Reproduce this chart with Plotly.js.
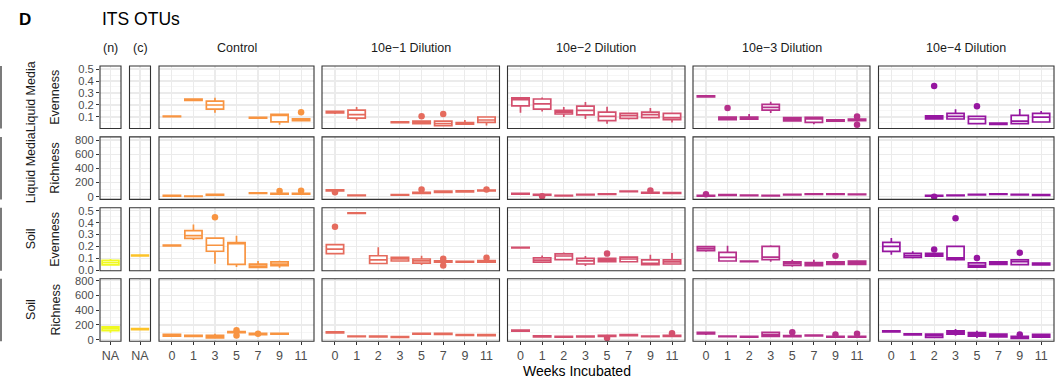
<!DOCTYPE html>
<html>
<head>
<meta charset="utf-8">
<script src="https://cdn.plot.ly/plotly-3.0.1.min.js"></script>
<style>html,body{margin:0;padding:0;background:#fff;}#chart{width:1057px;height:380px;}</style>
</head>
<body>
<div id="chart"></div>
<script>
// ---------- categories & labels ----------
const facetLabels = ['(n)', '(c)', 'Control', '10e\u22121 Dilution', '10e\u22122 Dilution', '10e\u22123 Dilution', '10e\u22124 Dilution'];
const facetColors = ['#f0f921', '#fdc328', '#f89441', '#e56b5d', '#d4506e', '#b5308b', '#9616a0'];
const weeksNC = ['NA'];
const weeksControl = ['0', '1', '3', '5', '7', '9', '11'];
const weeksDilution = ['0', '1', '2', '3', '5', '7', '9', '11'];
const rowMedium = ['Liquid Media', 'Liquid Media', 'Soil', 'Soil'];
const rowMetric = ['Evenness', 'Richness', 'Evenness', 'Richness'];

// ---------- box statistics: [week, lower whisker, q1, median, q3, upper whisker] ----------
// Liquid Media - Evenness
const lmEven_control = [['0',.100,.102,.105,.107,.109],['1',.232,.238,.243,.250,.256],['3',.135,.165,.200,.232,.260],['7',.088,.090,.093,.096,.098],['9',.035,.060,.115,.122,.125],['11',.065,.070,.078,.085,.090]];
const lmEven_control_out = [['11',.140]];
const lmEven_d1 = [['0',.125,.133,.140,.147,.155],['1',.070,.090,.120,.157,.183],['3',.051,.053,.056,.059,.061],['5',.042,.045,.055,.065,.068],['7',.022,.027,.045,.066,.070],['9',.038,.040,.047,.053,.075],['11',.028,.055,.075,.100,.105]];
const lmEven_d1_out = [['5',.106],['7',.125]];
const lmEven_d2 = [['0',.136,.192,.245,.260,.262],['1',.145,.165,.210,.250,.262],['2',.100,.125,.140,.155,.183],['3',.083,.118,.155,.190,.225],['5',.044,.070,.105,.140,.186],['7',.080,.088,.112,.130,.135],['9',.090,.095,.120,.140,.175],['11',.053,.078,.095,.130,.135]];
const lmEven_d2_out = [];
const lmEven_d3 = [['0',.265,.268,.272,.276,.279],['1',.075,.078,.090,.100,.103],['2',.080,.082,.090,.100,.125],['3',.133,.158,.180,.205,.228],['5',.065,.068,.080,.095,.098],['7',.040,.055,.083,.097,.100],['9',.062,.065,.072,.077,.080],['11',.060,.070,.078,.083,.090]];
const lmEven_d3_out = [['1',.175],['11',.105],['11',.035]];
const lmEven_d4 = [['2',.078,.085,.098,.110,.115],['3',.080,.083,.105,.130,.165],['5',.044,.045,.083,.105,.108],['7',.036,.038,.043,.048,.050],['9',.040,.045,.065,.113,.167],['11',.055,.058,.098,.130,.150]];
const lmEven_d4_out = [['2',.358],['5',.190]];

// Liquid Media - Richness
const lmRich_control = [['0',5,8,12,18,20],['1',1,3,6,9,11],['3',18,22,27,32,35],['7',45,48,52,56,59],['9',32,36,42,48,52],['11',30,35,40,46,50]];
const lmRich_control_out = [['9',80],['11',85]];
const lmRich_d1 = [['0',78,82,90,98,100],['1',12,14,18,22,24],['3',20,22,26,30,32],['5',45,48,55,62,65],['7',55,62,70,78,85],['9',65,68,76,84,88],['11',78,82,88,94,96]];
const lmRich_d1_out = [['0',62],['5',100],['11',100]];
const lmRich_d2 = [['0',33,36,42,48,50],['1',18,22,28,32,34],['2',8,10,14,18,20],['3',22,24,28,32,34],['5',31,34,38,42,44],['7',66,70,75,80,83],['9',47,50,56,62,65],['11',43,46,52,58,60]];
const lmRich_d2_out = [['1',5],['9',88]];
const lmRich_d3 = [['0',5,8,14,18,20],['1',18,20,24,28,30],['2',14,16,20,24,26],['3',8,10,14,18,20],['5',22,24,28,32,34],['7',32,34,38,42,44],['9',32,34,38,42,44],['11',27,29,33,37,39]];
const lmRich_d3_out = [['0',35]];
const lmRich_d4 = [['2',6,8,14,18,20],['3',14,16,20,24,26],['5',22,24,28,32,34],['7',32,34,38,42,44],['9',22,24,28,32,34],['11',18,20,24,28,30]];
const lmRich_d4_out = [['2',0]];

// Soil - Evenness
const soilEven_n = [['NA',.040,.045,.065,.083,.095]];
const soilEven_c = [['NA',.118,.120,.123,.127,.129]];
const soilEven_control = [['0',.203,.205,.208,.211,.213],['1',.255,.267,.290,.333,.385],['3',.055,.160,.210,.270,.275],['5',.028,.050,.225,.232,.290],['7',.020,.025,.035,.052,.078],['9',.022,.040,.052,.070,.080]];
const soilEven_control_out = [['3',.445]];
const soilEven_d1 = [['0',.135,.140,.177,.215,.220],['1',.475,.477,.479,.482,.484],['2',.050,.057,.088,.122,.193],['3',.075,.078,.095,.108,.115],['5',.045,.060,.080,.095,.122],['7',.062,.068,.075,.080,.085],['9',.065,.068,.072,.076,.078],['11',.062,.068,.075,.082,.086]];
const soilEven_d1_out = [['0',.365],['7',.097],['7',.040],['11',.105]];
const soilEven_d2 = [['0',.186,.188,.190,.193,.195],['1',.062,.068,.085,.105,.125],['2',.085,.090,.120,.138,.150],['3',.037,.053,.080,.100,.120],['5',.068,.072,.085,.100,.105],['7',.065,.072,.095,.110,.115],['9',.045,.048,.058,.088,.130],['11',.048,.053,.070,.088,.145]];
const soilEven_d2_out = [['5',.140]];
const soilEven_d3 = [['0',.155,.165,.182,.198,.205],['1',.075,.078,.108,.150,.205],['2',.070,.072,.075,.078,.080],['3',.072,.090,.110,.200,.210],['5',.030,.042,.058,.072,.088],['7',.038,.040,.052,.065,.088],['9',.048,.050,.060,.072,.075],['11',.045,.050,.065,.078,.080]];
const soilEven_d3_out = [['9',.123]];
const soilEven_d4 = [['0',.130,.158,.200,.235,.270],['1',.100,.108,.125,.143,.160],['2',.115,.118,.130,.142,.145],['3',.080,.090,.105,.200,.205],['5',.025,.027,.042,.062,.070],['7',.048,.050,.060,.070,.072],['9',.046,.048,.072,.088,.090],['11',.043,.045,.052,.060,.062]];
const soilEven_d4_out = [['2',.174],['3',.437],['5',.103],['9',.148]];

// Soil - Richness
const soilRich_n = [['NA',95,122,150,175,180]];
const soilRich_c = [['NA',135,138,145,150,153]];
const soilRich_control = [['0',48,50,62,72,75],['1',42,45,52,60,62],['3',15,25,42,60,80],['5',90,95,102,110,115],['7',65,70,78,88,92],['9',72,75,80,88,90]];
const soilRich_control_out = [['5',128],['5',58],['7',80]];
const soilRich_d1 = [['0',88,92,100,108,112],['1',36,40,45,50,53],['2',34,38,45,50,53],['3',26,30,36,42,45],['5',70,74,80,86,90],['7',68,72,80,88,92],['9',55,58,63,70,73],['11',52,56,62,70,73]];
const soilRich_d1_out = [];
const soilRich_d2 = [['0',110,115,122,130,134],['1',35,38,45,52,55],['2',32,35,40,46,49],['3',35,38,44,50,53],['5',42,45,52,60,63],['7',53,56,62,68,71],['9',37,40,45,50,53],['11',42,45,52,60,63]];
const soilRich_d2_out = [['5',25],['11',88]];
const soilRich_d3 = [['0',65,80,90,100,105],['1',37,40,45,50,53],['2',33,36,40,46,49],['3',40,45,70,100,105],['5',39,42,48,55,58],['7',49,52,58,64,67],['9',31,34,40,46,49],['11',31,34,40,46,49]];
const soilRich_d3_out = [['5',100],['9',72],['11',80]];
const soilRich_d4 = [['0',100,105,112,120,125],['1',62,65,72,80,83],['2',25,30,55,75,78],['3',55,75,100,120,145],['5',25,48,72,95,120],['7',35,38,58,76,79],['9',15,18,28,45,48],['11',32,35,55,72,75]];
const soilRich_d4_out = [['9',70]];

// ---------- layout geometry ----------
const W = 1057, H = 380;
const FONT = 'Liberation Sans, Arial, sans-serif';
const colPx = [[100,121],[129.5,150.5],[159,314],[322,499.5],[507.5,685],[693,870],[878.5,1054]];
const rowPx = [[66,128.5],[136.9,199.4],[207.8,270.8],[278.7,341.2]];
const colCats = [weeksNC, weeksNC, weeksControl, weeksDilution, weeksDilution, weeksDilution, weeksDilution];

// panel -> [row, col, boxes, outliers]
const panels = [
  [0,2,lmEven_control,lmEven_control_out],[0,3,lmEven_d1,lmEven_d1_out],[0,4,lmEven_d2,lmEven_d2_out],[0,5,lmEven_d3,lmEven_d3_out],[0,6,lmEven_d4,lmEven_d4_out],
  [1,2,lmRich_control,lmRich_control_out],[1,3,lmRich_d1,lmRich_d1_out],[1,4,lmRich_d2,lmRich_d2_out],[1,5,lmRich_d3,lmRich_d3_out],[1,6,lmRich_d4,lmRich_d4_out],
  [2,0,soilEven_n,[]],[2,1,soilEven_c,[]],[2,2,soilEven_control,soilEven_control_out],[2,3,soilEven_d1,soilEven_d1_out],[2,4,soilEven_d2,soilEven_d2_out],[2,5,soilEven_d3,soilEven_d3_out],[2,6,soilEven_d4,soilEven_d4_out],
  [3,0,soilRich_n,[]],[3,1,soilRich_c,[]],[3,2,soilRich_control,soilRich_control_out],[3,3,soilRich_d1,soilRich_d1_out],[3,4,soilRich_d2,soilRich_d2_out],[3,5,soilRich_d3,soilRich_d3_out],[3,6,soilRich_d4,soilRich_d4_out]
];

const xa = c => 'x' + (c === 0 ? '' : c + 1);
const ya = r => 'y' + (r === 0 ? '' : r + 1);

const traces = [];
// dummy traces so every panel exists
for (let r = 0; r < 4; r++) for (let c = 0; c < 7; c++) {
  traces.push({type:'scatter', mode:'markers', x:[colCats[c][0]], y:[null], xaxis:xa(c), yaxis:ya(r), showlegend:false, hoverinfo:'skip'});
}
panels.forEach(([r, c, boxes, outs]) => {
  const color = facetColors[c];
  traces.push({
    type:'box', xaxis:xa(c), yaxis:ya(r),
    x: boxes.map(d => d[0]),
    lowerfence: boxes.map(d => d[1]),
    q1: boxes.map(d => d[2]),
    median: boxes.map(d => d[3]),
    q3: boxes.map(d => d[4]),
    upperfence: boxes.map(d => d[5]),
    width: 0.8, whiskerwidth: 0, boxpoints: false,
    fillcolor: 'white', line: {color: color, width: 1.7},
    showlegend: false, hoverinfo: 'skip'
  });
  if (outs.length) traces.push({
    type:'scatter', mode:'markers', xaxis:xa(c), yaxis:ya(r),
    x: outs.map(d => d[0]), y: outs.map(d => d[1]),
    marker: {color: color, size: 6.5}, showlegend:false, hoverinfo:'skip', cliponaxis:false
  });
});

const layout = {
  width: W, height: H, margin: {l:0, r:0, t:0, b:0},
  paper_bgcolor: 'white', plot_bgcolor: 'white',
  font: {family: FONT, color: '#1a1a1a'},
  showlegend: false, boxmode: 'overlay',
  shapes: [], annotations: []
};

const gridCol = '#ebebeb';
for (let c = 0; c < 7; c++) {
  const n = colCats[c].length;
  layout['xaxis' + (c === 0 ? '' : c + 1)] = {
    domain: [colPx[c][0] / W, colPx[c][1] / W], anchor: 'y4',
    type: 'category', categoryorder: 'array', categoryarray: colCats[c],
    range: n === 1 ? [-0.5, 0.5] : [-0.6, n - 0.4],
    showgrid: true, gridcolor: gridCol, gridwidth: 1.1,
    zeroline: false, showline: false,
    ticks: 'outside', ticklen: 3, tickwidth: 1, tickcolor: '#333333',
    tickfont: {family: FONT, size: 12.5, color: '#4d4d4d'}, fixedrange: true
  };
}
const yRanges = [[0.004, 0.525], [-38, 844], [-0.004, 0.524], [-20, 827]];
for (let r = 0; r < 4; r++) {
  const even = rowMetric[r] === 'Evenness';
  layout['yaxis' + (r === 0 ? '' : r + 1)] = {
    domain: [1 - rowPx[r][1] / H, 1 - rowPx[r][0] / H], anchor: 'x',
    range: yRanges[r], tick0: 0, dtick: even ? 0.1 : 200, tickformat: even ? '.1f' : 'd',
    showgrid: true, gridcolor: gridCol, gridwidth: 1.1,
    minor: {dtick: even ? 0.05 : 100, tick0: 0, showgrid: true, gridcolor: '#f2f2f2', gridwidth: 0.7, ticks: ''},
    zeroline: false, showline: false,
    ticks: 'outside', ticklen: 3, tickwidth: 1, tickcolor: '#333333',
    tickfont: {family: FONT, size: 11.2, color: '#4d4d4d'}, fixedrange: true
  };
}

// panel borders
for (let r = 0; r < 4; r++) for (let c = 0; c < 7; c++) {
  layout.shapes.push({type:'rect', xref:'paper', yref:'paper', layer:'above',
    x0: colPx[c][0] / W, x1: colPx[c][1] / W, y0: 1 - rowPx[r][1] / H, y1: 1 - rowPx[r][0] / H,
    line: {color: '#333333', width: 1.1}, fillcolor: 'rgba(0,0,0,0)'});
}
// left edge lines per row
for (let r = 0; r < 4; r++) {
  layout.shapes.push({type:'line', xref:'paper', yref:'paper', x0: 1 / W, x1: 1 / W,
    y0: 1 - rowPx[r][1] / H, y1: 1 - rowPx[r][0] / H, line: {color: '#333333', width: 1.3}});
}

const ann = (text, px, py, opts) => Object.assign({
  text: text, xref:'paper', yref:'paper', x: px / W, y: 1 - py / H,
  xanchor:'center', yanchor:'middle', showarrow:false,
  font: {family: FONT, size: 12.5, color: '#1a1a1a'}
}, opts || {});

layout.annotations.push(ann('<b>D</b>', 17, 19, {xanchor:'left', font:{family:FONT, size:17, color:'#000'}}));
layout.annotations.push(ann('ITS OTUs', 100, 19, {xanchor:'left', font:{family:FONT, size:17.5, color:'#000'}}));
for (let c = 0; c < 7; c++) {
  layout.annotations.push(ann(facetLabels[c], (colPx[c][0] + colPx[c][1]) / 2, 48));
}
for (let r = 0; r < 4; r++) {
  const cy = (rowPx[r][0] + rowPx[r][1]) / 2;
  layout.annotations.push(ann(rowMetric[r], 55.5, cy, {textangle: -90}));
  layout.annotations.push(ann(rowMedium[r], 31, cy, {textangle: -90}));
}
layout.annotations.push(ann('Weeks Incubated', 577, 370.5, {font:{family:FONT, size:14, color:'#000'}}));

Plotly.newPlot('chart', traces, layout, {staticPlot: true, displayModeBar: false});
</script>
</body>
</html>
